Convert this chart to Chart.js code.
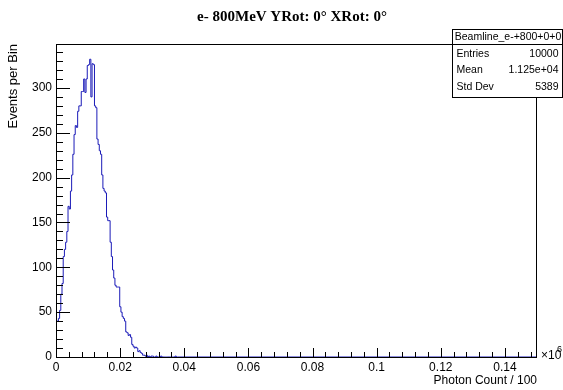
<!DOCTYPE html>
<html>
<head>
<meta charset="utf-8">
<script src="https://cdn.jsdelivr.net/npm/chart.js@4.4.0/dist/chart.umd.min.js"></script>
<style>
  html, body { margin: 0; padding: 0; background: #fff; }
</style>
</head>
<body>
<canvas id="histChart" width="563" height="390"></canvas>
<script>
// histogram data (x in units of 10^6, 400 bins from 0 to 0.15)
const binWidth = 0.000375;
const counts = [
  102, 40, 40, 43, 52, 70, 82, 112, 120, 128,
  140, 168, 165, 185, 203, 226, 248, 258, 256, 274,
  280, 280, 296, 296, 310, 295, 310, 325, 326, 332,
  290, 327, 326, 280, 278, 243, 237, 230, 226, 203,
  188, 185, 183, 156, 152, 152, 128, 112, 97, 88,
  80, 78, 78, 78, 56, 50, 45, 43, 40, 28,
  27, 24, 25, 22, 14, 12, 10, 11, 10, 6,
  7, 5, 4, 2, 2, 1, 2, 0, 1, 0,
  1, 1, 0, 0, 1, 0, 0, 0, 1, 0,
  0, 0, 0, 0, 0, 0, 0, 0, 0, 0,
  1
];
const xTicks = [0, 0.02, 0.04, 0.06, 0.08, 0.1, 0.12, 0.14];
const yTicks = [0, 50, 100, 150, 200, 250, 300];
const statRows = [["Entries", "10000"], ["Mean", "1.125e+04"], ["Std Dev", "5389"]];

const points = counts.map((c, i) => ({ x: i * binWidth, y: c }));
points.push({ x: counts.length * binWidth, y: 0 });
points.push({ x: 0.15, y: 0 });

const SANS = '"Liberation Sans", Arial, sans-serif';

// ROOT style frame, inner ticks, title and stats box
const rootDecor = {
  id: "rootDecor",
  afterDraw(chart) {
    const c = chart.ctx;
    const a = chart.chartArea;
    const xs = chart.scales.x, ys = chart.scales.y;
    c.save();
    c.strokeStyle = "#000";
    c.lineWidth = 1;
    c.strokeRect(a.left + 0.5, a.top + 0.5, a.right - a.left - 1, a.bottom - a.top);

    // y ticks
    c.beginPath();
    for (let v = 0; v <= ys.max; v += 10) {
      const y = Math.round(ys.getPixelForValue(v)) + 0.5;
      const len = v % 50 === 0 ? 14 : 7;
      c.moveTo(a.left, y);
      c.lineTo(a.left + len, y);
    }
    // x ticks
    for (let k = 0; k <= 37; k++) {
      const v = k * 0.004;
      const x = Math.round(xs.getPixelForValue(v)) + 0.5;
      const len = k % 5 === 0 ? 9 : 5;
      c.moveTo(x, a.bottom);
      c.lineTo(x, a.bottom - len);
    }
    c.stroke();

    // main title
    c.fillStyle = "#000";
    c.font = 'bold 15px "Liberation Serif", serif';
    c.textAlign = "center";
    c.textBaseline = "middle";
    c.fillText("e- 800MeV YRot: 0\u00b0 XRot: 0\u00b0", 292, 17);

    // x10^6
    c.font = "12px " + SANS;
    c.textAlign = "left";
    c.fillText("\u00d710", a.right + 4, a.bottom - 1);
    c.font = "9px " + SANS;
    c.fillText("6", a.right + 20, a.bottom - 7);

    // stats box
    const bx = 452.5, by = 29.5, bw = 110, bh = 68;
    c.fillStyle = "#fff";
    c.fillRect(bx, by, bw, bh);
    c.strokeRect(bx, by, bw, bh);
    c.beginPath();
    c.moveTo(bx, 44.5);
    c.lineTo(bx + bw, 44.5);
    c.stroke();
    c.fillStyle = "#000";
    c.font = "10.5px " + SANS;
    c.textAlign = "center";
    c.fillText("Beamline_e-+800+0+0", bx + bw / 2 + 0.5, 37.5);
    statRows.forEach((r, i) => {
      const ty = 54 + i * 16.5;
      c.textAlign = "left";
      c.fillText(r[0], bx + 4, ty);
      c.textAlign = "right";
      c.fillText(r[1], bx + bw - 4, ty);
    });
    c.restore();
  }
};

const ctx = document.getElementById("histChart").getContext("2d");
new Chart(ctx, {
  type: "line",
  data: {
    datasets: [{
      data: points,
      stepped: "after",
      borderColor: "#1b1bb8",
      borderWidth: 1,
      pointRadius: 0,
      fill: false
    }]
  },
  options: {
    responsive: false,
    animation: false,
    layout: { padding: { left: 0, right: 26, top: 44, bottom: 0 } },
    plugins: { legend: { display: false }, tooltip: { enabled: false } },
    scales: {
      x: {
        type: "linear",
        min: 0,
        max: 0.15,
        afterBuildTicks: (s) => { s.ticks = xTicks.map(v => ({ value: v })); },
        afterFit: (s) => { s.height = 33; },
        grid: { display: false, drawTicks: false },
        border: { display: false },
        ticks: {
          padding: 3,
          maxRotation: 0,
          color: "#000",
          font: { family: SANS, size: 12 },
          callback: (v) => String(Number(v.toFixed(2)))
        },
        title: {
          display: true,
          text: "Photon Count / 100",
          align: "end",
          color: "#000",
          font: { family: SANS, size: 12 },
          padding: { top: 0, bottom: 2 }
        }
      },
      y: {
        min: 0,
        max: 349,
        afterBuildTicks: (s) => { s.ticks = yTicks.map(v => ({ value: v })); },
        afterFit: (s) => { s.width = 56; },
        grid: { display: false, drawTicks: false },
        border: { display: false },
        ticks: {
          padding: 4,
          color: "#000",
          font: { family: SANS, size: 12 }
        },
        title: {
          display: true,
          text: "Events per Bin",
          align: "end",
          color: "#000",
          font: { family: SANS, size: 13 },
          padding: { top: 6, bottom: 0 }
        }
      }
    }
  },
  plugins: [rootDecor]
});
</script>
</body>
</html>
